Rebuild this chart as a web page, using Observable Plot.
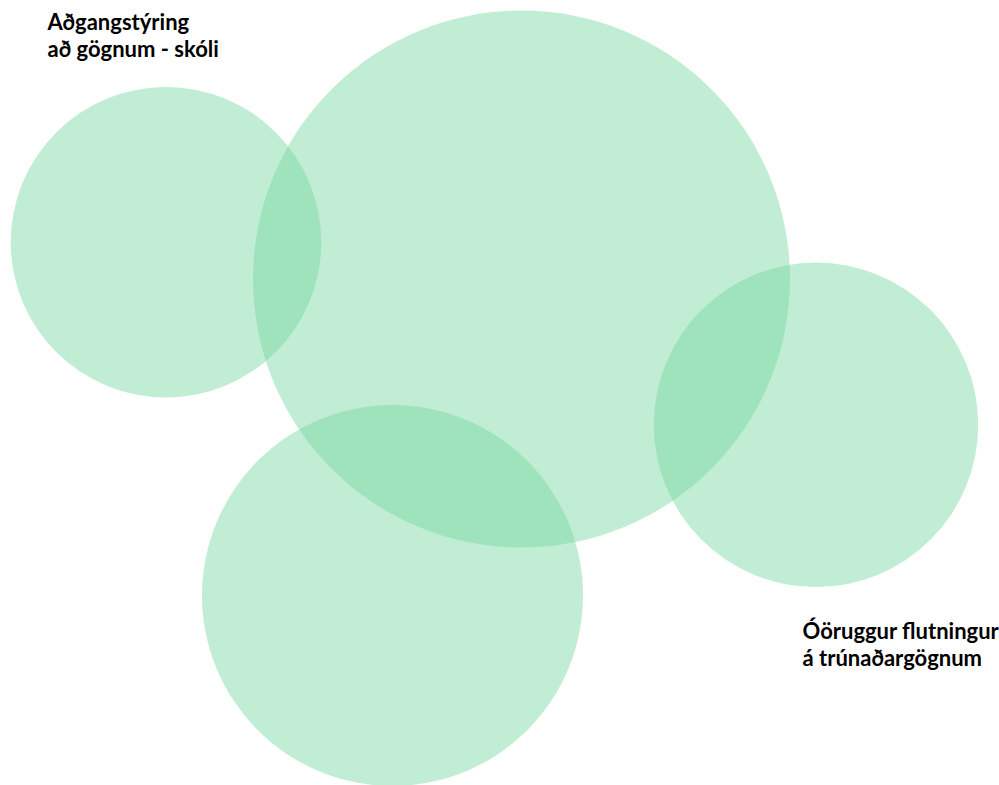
<!DOCTYPE html>
<html>
<head>
<meta charset="utf-8">
<script src="https://cdn.jsdelivr.net/npm/d3@7"></script>
<script src="https://cdn.jsdelivr.net/npm/@observablehq/plot@0.6"></script>
<style>
  html, body { margin: 0; padding: 0; background: #ffffff; }
  #chart { width: 999px; height: 785px; }
</style>
</head>
<body>
<div id="chart"></div>
<script>
// Circles (bubble / Venn-like layout), in chart units
const circleNames = ["Aðgangstýring að gögnum - skóli", "Stór hringur", "Óöruggur flutningur á trúnaðargögnum", "Neðri hringur"];
const circleX = [165.5, 521, 815.5, 392];
const circleY = [241.7, 278.5, 424.3, 595];
const circleR = [155.3, 268.5, 162.2, 190.5];

// Labels
const labelTexts = ["Aðgangstýring\nað gögnum - skóli", "Óöruggur flutningur\ná trúnaðargögnum"];
const labelX = [47, 802];
const labelY = [9.5, 618.5];

const circles = circleNames.map((name, i) => ({name, x: circleX[i], y: circleY[i], r: circleR[i]}));
const labels = labelTexts.map((t, i) => ({text: t, x: labelX[i], y: labelY[i]}));

const chart = Plot.plot({
  width: 999,
  height: 785,
  margin: 0,
  style: {background: "#ffffff", overflow: "hidden"},
  x: {type: "identity", axis: null},
  y: {type: "identity", axis: null},
  r: {type: "identity"},
  marks: [
    Plot.dot(circles, {x: "x", y: "y", r: "r", fill: "rgb(118,215,160)", fillOpacity: 0.45, stroke: "none"}),
    Plot.text(labels, {
      x: "x", y: "y", text: "text",
      textAnchor: "start", lineAnchor: "top", lineHeight: 1.25,
      fontSize: 22, fontWeight: "bold", fontFamily: "Lato, 'Open Sans', sans-serif",
      fill: "#000000"
    })
  ]
});
document.getElementById("chart").appendChild(chart);
</script>
</body>
</html>
